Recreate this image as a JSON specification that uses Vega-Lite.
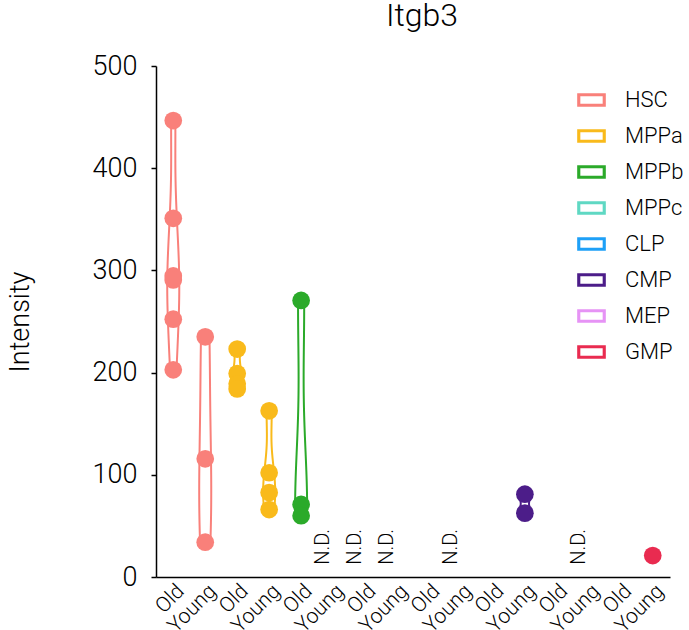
{
  "$schema": "https://vega.github.io/schema/vega-lite/v6.json",
  "width": 514,
  "height": 511,
  "padding": {"left": 6, "top": 0, "right": 0, "bottom": 16},
  "background": "white",
  "title": {"text": "Itgb3", "fontSize": 32, "font": "Roboto", "fontWeight": 300, "color": "black", "anchor": "middle", "offset": 19, "dx": 9},
  "config": {
    "view": {"stroke": null},
    "font": "Roboto",
    "axis": {"domainColor": "black", "tickColor": "black", "labelColor": "black", "titleColor": "black", "labelFont": "Roboto", "titleFont": "Roboto", "labelFontWeight": 300, "titleFontWeight": 300, "grid": false, "domainWidth": 1.5, "tickWidth": 1.5}
  },
  "datasets": {
    "pts": [
      {"cell": "HSC", "age": "Old", "value": 446.6},
      {"cell": "HSC", "age": "Old", "value": 351},
      {"cell": "HSC", "age": "Old", "value": 294.6},
      {"cell": "HSC", "age": "Old", "value": 290.7},
      {"cell": "HSC", "age": "Old", "value": 252.3},
      {"cell": "HSC", "age": "Old", "value": 202.7},
      {"cell": "HSC", "age": "Young", "value": 235},
      {"cell": "HSC", "age": "Young", "value": 115.6},
      {"cell": "HSC", "age": "Young", "value": 34.1},
      {"cell": "MPPa", "age": "Old", "value": 223},
      {"cell": "MPPa", "age": "Old", "value": 199},
      {"cell": "MPPa", "age": "Old", "value": 189},
      {"cell": "MPPa", "age": "Old", "value": 184},
      {"cell": "MPPa", "age": "Young", "value": 162.6},
      {"cell": "MPPa", "age": "Young", "value": 102},
      {"cell": "MPPa", "age": "Young", "value": 82.6},
      {"cell": "MPPa", "age": "Young", "value": 66},
      {"cell": "MPPb", "age": "Old", "value": 270.6},
      {"cell": "MPPb", "age": "Old", "value": 71},
      {"cell": "MPPb", "age": "Old", "value": 60},
      {"cell": "CMP", "age": "Young", "value": 81},
      {"cell": "CMP", "age": "Young", "value": 62.5},
      {"cell": "GMP", "age": "Young", "value": 21}
    ],
    "nd": [
      {"cell": "MPPb", "age": "Young", "label": "N.D."},
      {"cell": "MPPc", "age": "Old", "label": "N.D."},
      {"cell": "MPPc", "age": "Young", "label": "N.D."},
      {"cell": "CLP", "age": "Young", "label": "N.D."},
      {"cell": "MEP", "age": "Young", "label": "N.D."}
    ]
  },
  "encoding": {
    "x": {
      "field": "grp", "type": "nominal", "title": null,
      "scale": {"domain": ["HSC|Old", "HSC|Young", "MPPa|Old", "MPPa|Young", "MPPb|Old", "MPPb|Young", "MPPc|Old", "MPPc|Young", "CLP|Old", "CLP|Young", "CMP|Old", "CMP|Young", "MEP|Old", "MEP|Young", "GMP|Old", "GMP|Young"], "paddingInner": 0, "paddingOuter": 0.04},
      "axis": {"labelExpr": "split(datum.label, '|')[1]", "labelAngle": -45, "labelAlign": "right", "labelBaseline": "top", "labelFontSize": 21, "labelPadding": 3, "ticks": false, "labelOverlap": false}
    }
  },
  "layer": [
    {
      "data": {"name": "pts"},
      "transform": [
        {"calculate": "datum.cell + '|' + datum.age", "as": "grp"},
        {"joinaggregate": [{"op": "count", "as": "n"}, {"op": "min", "field": "value", "as": "vmin"}, {"op": "max", "field": "value", "as": "vmax"}], "groupby": ["grp"]},
        {"filter": "datum.n > 1"},
        {"density": "value", "groupby": ["grp", "cell", "vmin", "vmax"], "as": ["value", "density"], "steps": 400},
        {"filter": "datum.value >= datum.vmin - 1 && datum.value <= datum.vmax + 1"},
        {"joinaggregate": [{"op": "max", "field": "density", "as": "dmax"}], "groupby": ["grp"]},
        {"calculate": "datum.density / datum.dmax", "as": "dn"}
      ],
      "mark": {"type": "line", "strokeWidth": 2},
      "encoding": {
        "y": {"field": "value", "type": "quantitative", "title": "Intensity", "scale": {"domain": [0, 500], "nice": false}, "axis": {"values": [0, 100, 200, 300, 400, 500], "labelFontSize": 27, "titleFontSize": 27, "tickSize": 5, "labelPadding": 14, "titlePadding": 58}},
        "detail": {"field": "grp"},
        "order": {"field": "value", "type": "quantitative"},
        "xOffset": {"field": "dn", "type": "quantitative", "scale": {"domain": [0, 1], "range": [15.98, 22]}},
        "stroke": {
          "field": "cell", "type": "nominal",
          "scale": {"domain": ["HSC", "MPPa", "MPPb", "MPPc", "CLP", "CMP", "MEP", "GMP"], "range": ["#F9807A", "#F9BA1B", "#2BAA2A", "#5FD8C3", "#1EA0F7", "#4C1D89", "#E693F5", "#E92B50"]},
          "legend": {
            "title": null, "orient": "none", "legendX": 421, "legendY": 19.5,
            "symbolType": "M-1,-0.48H1V0.48H-1Z M-0.78,-0.27V0.27H0.78V-0.27Z", "symbolSize": 820, "symbolStrokeWidth": 0,
            "labelFontSize": 22, "labelFont": "Roboto", "labelFontWeight": 300, "labelColor": "black",
            "labelOffset": 19, "rowPadding": 10, "padding": 0
          }
        }
      }
    },
    {
      "data": {"name": "pts"},
      "transform": [
        {"calculate": "datum.cell + '|' + datum.age", "as": "grp"},
        {"joinaggregate": [{"op": "count", "as": "n"}, {"op": "min", "field": "value", "as": "vmin"}, {"op": "max", "field": "value", "as": "vmax"}], "groupby": ["grp"]},
        {"filter": "datum.n > 1"},
        {"density": "value", "groupby": ["grp", "cell", "vmin", "vmax"], "as": ["value", "density"], "steps": 400},
        {"filter": "datum.value >= datum.vmin - 1 && datum.value <= datum.vmax + 1"},
        {"joinaggregate": [{"op": "max", "field": "density", "as": "dmax"}], "groupby": ["grp"]},
        {"calculate": "datum.density / datum.dmax", "as": "dn"}
      ],
      "mark": {"type": "line", "strokeWidth": 2},
      "encoding": {
        "y": {"field": "value", "type": "quantitative"},
        "detail": {"field": "grp"},
        "order": {"field": "value", "type": "quantitative"},
        "xOffset": {"field": "dn", "type": "quantitative", "scale": {"domain": [0, 1], "range": [15.98, 9.96]}},
        "stroke": {"field": "cell", "type": "nominal"}
      }
    },
    {
      "data": {"name": "pts"},
      "transform": [
        {"calculate": "datum.cell + '|' + datum.age", "as": "grp"}
      ],
      "mark": {"type": "circle", "size": 314, "opacity": 1},
      "encoding": {
        "y": {"field": "value", "type": "quantitative"},
        "fill": {
          "field": "cell", "type": "nominal", "legend": null,
          "scale": {"domain": ["HSC", "MPPa", "MPPb", "MPPc", "CLP", "CMP", "MEP", "GMP"], "range": ["#F9807A", "#F9BA1B", "#2BAA2A", "#5FD8C3", "#1EA0F7", "#4C1D89", "#E693F5", "#E92B50"]}
        }
      }
    },
    {
      "data": {"name": "nd"},
      "transform": [
        {"calculate": "datum.cell + '|' + datum.age", "as": "grp"}
      ],
      "mark": {"type": "text", "angle": 270, "align": "left", "baseline": "bottom", "fontSize": 20, "font": "Roboto", "fontWeight": 300, "color": "black"},
      "encoding": {
        "y": {"datum": 12, "type": "quantitative"},
        "text": {"field": "label", "type": "nominal"}
      }
    }
  ],
  "resolve": {"scale": {"xOffset": "independent"}}
}
